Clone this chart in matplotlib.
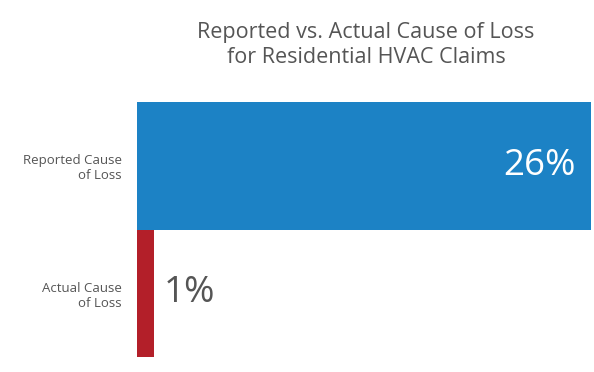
import matplotlib
matplotlib.use("Agg")
import matplotlib.pyplot as plt

categories = ["Actual Cause\nof Loss", "Reported Cause\nof Loss"]
values = [1, 26]
value_labels = ["1%", "26%"]
colors = ["#b31f29", "#1c82c5"]

plt.rcParams["font.family"] = ["Open Sans", "DejaVu Sans"]

fig = plt.figure(figsize=(5.94, 3.72), dpi=100)
ax = fig.add_axes([137 / 594, 15 / 372, 454 / 594, 255 / 372])

ax.barh(range(len(values)), values, height=1.0, color=colors)
ax.set_xlim(0, 26)
ax.set_ylim(-0.5, 1.5)
ax.set_yticks(range(len(categories)))
ax.set_yticklabels(categories, fontsize=9.5, color="#555555", ha="right")
ax.tick_params(axis="y", length=0, pad=11)
ax.set_xticks([])
for s in ax.spines.values():
    s.set_visible(False)

# value labels: inside the long bar, outside the short one
ax.text(values[1] - 0.9, 1, value_labels[1], ha="right", va="center",
        fontsize=26.5, color="white")
ax.text(values[0] + 0.55, 0, value_labels[0], ha="left", va="center",
        fontsize=26.5, color="#555555")

fig.text(366 / 594, 1 - 45 / 372, "Reported vs. Actual Cause of Loss\nfor Residential HVAC Claims",
         ha="center", va="center", fontsize=15.5, color="#555555", linespacing=1.3)

fig.savefig("out.png", dpi=100)
